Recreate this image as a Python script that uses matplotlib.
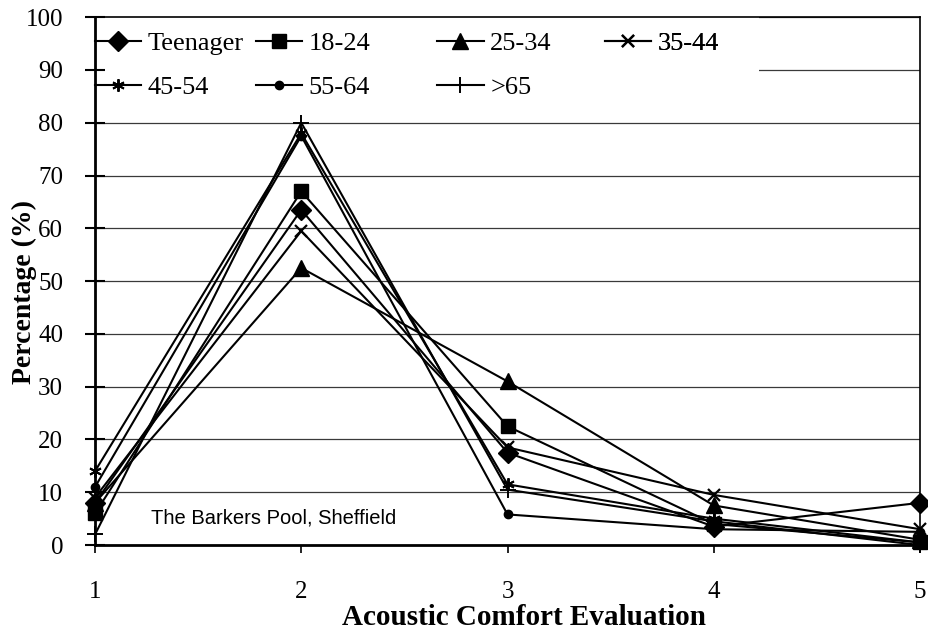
import matplotlib
matplotlib.use("Agg")
import matplotlib.pyplot as plt
from matplotlib.patches import Rectangle

# Acoustic comfort evaluation scale and response shares per age group
evaluation = [1, 2, 3, 4, 5]
teenager = [8, 63.5, 17.5, 3.5, 8]
age_18_24 = [6, 67, 22.5, 4, 0.5]
age_25_34 = [8, 52.5, 31, 7.5, 1]
age_35_44 = [9, 59.5, 18.5, 9.5, 3]
age_45_54 = [14, 78, 11.5, 5, 0.5]
age_55_64 = [11, 77.5, 5.8, 3, 2.5]
age_over_65 = [2, 80, 10.5, 4.5, 0]

series = [
    ("Teenager", teenager, "D", 10, 1.0),
    ("18-24", age_18_24, "s", 10, 1.0),
    ("25-34", age_25_34, "^", 11, 1.0),
    ("35-44", age_35_44, "x", 9, 1.6),
    ("45-54", age_45_54, (6, 2, 0), 9, 1.4),
    ("55-64", age_55_64, "o", 6, 1.0),
    (">65", age_over_65, "+", 12, 1.4),
]

y_ticks = list(range(0, 101, 10))
x_ticks = evaluation

plt.rcParams["font.family"] = ["Liberation Serif", "DejaVu Serif"]

fig = plt.figure(figsize=(9.29, 6.36), dpi=100)
ax = fig.add_axes([0.1023, 0.143, 0.888, 0.830])

for y in y_ticks[1:]:
    ax.axhline(y, color="#3a3a3a", lw=0.9, zorder=1)

handles = {}
for label, vals, marker, ms, mew in series:
    (h,) = ax.plot(evaluation, vals, color="black", lw=1.5, marker=marker,
                   markersize=ms, markeredgewidth=mew, markerfacecolor="black",
                   markeredgecolor="black", label=label, zorder=3, clip_on=False)
    handles[label] = h

ax.set_xlim(1, 5)
ax.set_ylim(0, 100)
ax.set_xticks(x_ticks)
ax.set_yticks(y_ticks)
ax.tick_params(axis="y", direction="inout", length=14, width=1.5, labelsize=18, pad=16)
ax.tick_params(axis="x", direction="out", length=6, width=1.2, labelsize=18, pad=20)
for s in ax.spines.values():
    s.set_linewidth(1.2)
ax.spines["left"].set_linewidth(2)
ax.spines["bottom"].set_linewidth(2)

ax.set_xlabel("Acoustic Comfort Evaluation", fontsize=21, fontweight="bold", va="center")
ax.xaxis.set_label_coords(0.52, -0.138)
ax.set_ylabel("Percentage (%)", fontsize=20, fontweight="bold", va="center")
ax.yaxis.set_label_coords(-0.086, 0.48)

# white panel behind the legend hides the upper gridlines
ax.add_patch(Rectangle((0.0, 0.835), 0.805, 0.165, transform=ax.transAxes,
                       facecolor="white", edgecolor="none", zorder=1.5))

# legend columns placed individually, two rows each
columns = [["Teenager", "45-54"], ["18-24", "55-64"], ["25-34", ">65"], ["35-44"]]
col_x = [0.0, 0.195, 0.415, 0.618]
for names, cx in zip(columns, col_x):
    leg = ax.legend([handles[k] for k in names], names, loc="upper left",
                    bbox_to_anchor=(cx, 0.972), frameon=False, fontsize=19,
                    handlelength=1.75, handletextpad=0.25, labelspacing=0.78,
                    borderpad=0.0, borderaxespad=0.0)
    leg.set_zorder(2)
    ax.add_artist(leg)

ax.text(1.27, 5.2, "The Barkers Pool, Sheffield", fontsize=14.5, ha="left", va="center",
        family=["Liberation Sans", "DejaVu Sans"], zorder=2)

fig.savefig("out.png", dpi=100)
